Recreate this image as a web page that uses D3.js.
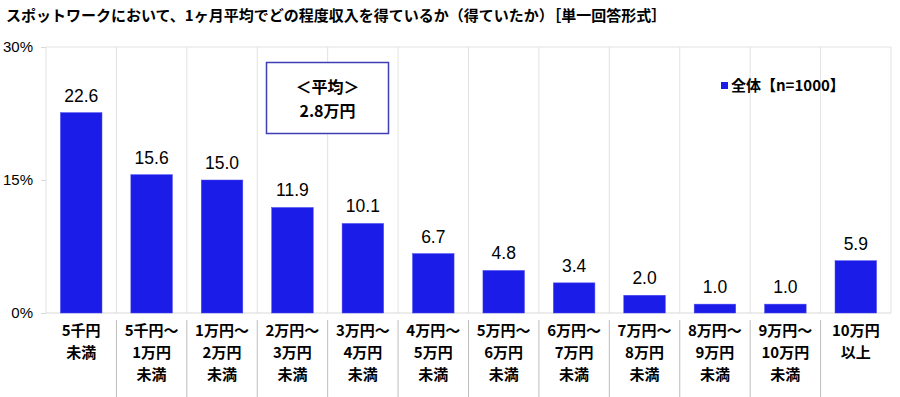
<!DOCTYPE html>
<html>
<head>
<meta charset="utf-8">
<script src="https://cdn.jsdelivr.net/npm/d3@7"></script>
<style>
  body { margin: 0; background: #fff; }
  svg text { fill: #000; }
</style>
</head>
<body>
<div id="chart"></div>
<script>
const title = "スポットワークにおいて、1ヶ月平均でどの程度収入を得ているか（得ていたか）［単一回答形式］";
const categories = [
    ["5千円", "未満"],
    ["5千円～", "1万円", "未満"],
    ["1万円～", "2万円", "未満"],
    ["2万円～", "3万円", "未満"],
    ["3万円～", "4万円", "未満"],
    ["4万円～", "5万円", "未満"],
    ["5万円～", "6万円", "未満"],
    ["6万円～", "7万円", "未満"],
    ["7万円～", "8万円", "未満"],
    ["8万円～", "9万円", "未満"],
    ["9万円～", "10万円", "未満"],
    ["10万円", "以上"]
];
const values = [22.6, 15.6, 15.0, 11.9, 10.1, 6.7, 4.8, 3.4, 2.0, 1.0, 1.0, 5.9];
const yTicks = [0, 15, 30];
const seriesName = "全体【n=1000】";
const averageLines = ["＜平均＞", "2.8万円"];

const width = 900;
const height = 397;
const margin = { top: 47, right: 9, bottom: 84, left: 46 };
const barColor = "#1c1ce8";
const jp = "'Noto Sans CJK JP', sans-serif";
const num = "'Liberation Sans', Arial, sans-serif";

const svg = d3.select("#chart")
    .append("svg")
    .attr("width", width)
    .attr("height", height);

const x = d3.scaleBand()
    .domain(d3.range(categories.length))
    .range([margin.left, width - margin.right])
    .paddingInner(0.41)
    .paddingOuter(0.205);

const y = d3.scaleLinear()
    .domain([0, 30])
    .range([height - margin.bottom, margin.top]);

const step = x.step();
const bandStart = i => margin.left + i * ((width - margin.left - margin.right) / categories.length);

// title
svg.append("text")
    .attr("x", 6)
    .attr("y", 21)
    .attr("font-family", jp)
    .attr("font-weight", "bold")
    .attr("font-size", 15)
    .text(title);

// vertical grid lines between categories
svg.append("g")
    .selectAll("line")
    .data(d3.range(1, categories.length))
    .enter()
    .append("line")
    .attr("x1", d => bandStart(d))
    .attr("x2", d => bandStart(d))
    .attr("y1", y(30))
    .attr("y2", y(0))
    .attr("stroke", "#e2e2e2")
    .attr("stroke-width", 1);

// plot frame lines
svg.append("line")
    .attr("x1", margin.left).attr("x2", width - margin.right)
    .attr("y1", y(30)).attr("y2", y(30))
    .attr("stroke", "#e2e2e2");
svg.append("line")
    .attr("x1", margin.left).attr("x2", margin.left)
    .attr("y1", y(30)).attr("y2", y(0))
    .attr("stroke", "#e2e2e2");
svg.append("line")
    .attr("x1", width - margin.right).attr("x2", width - margin.right)
    .attr("y1", y(30)).attr("y2", y(0))
    .attr("stroke", "#e2e2e2");
svg.append("line")
    .attr("x1", margin.left).attr("x2", width - margin.right)
    .attr("y1", y(0)).attr("y2", y(0))
    .attr("stroke", "#d9d9d9");

// y axis labels
const yAxis = svg.append("g")
    .attr("transform", `translate(${margin.left}, 0)`)
    .call(d3.axisLeft(y).tickValues(yTicks).tickFormat(d => d + "%").tickSize(5).tickPadding(8));
yAxis.select(".domain").remove();
yAxis.selectAll(".tick line").attr("stroke", "#d9d9d9");
yAxis.selectAll("text")
    .attr("font-family", num)
    .attr("font-size", 15)
    .attr("fill", "#000");

// bars
svg.append("g")
    .selectAll("rect")
    .data(values)
    .enter()
    .append("rect")
    .attr("x", (d, i) => x(i))
    .attr("width", x.bandwidth())
    .attr("y", d => y(d))
    .attr("height", d => y(0) - y(d))
    .attr("fill", barColor)
    .attr("stroke", "#4a4af0")
    .attr("stroke-width", 0.5);

// value labels
svg.append("g")
    .selectAll("text")
    .data(values)
    .enter()
    .append("text")
    .attr("x", (d, i) => x(i) + x.bandwidth() / 2)
    .attr("y", d => y(d) - 11)
    .attr("text-anchor", "middle")
    .attr("font-family", num)
    .attr("font-size", 17.5)
    .text(d => d.toFixed(1));

// category labels with separators below axis
const labelG = svg.append("g");
labelG.selectAll("line")
    .data(d3.range(1, categories.length))
    .enter()
    .append("line")
    .attr("x1", d => bandStart(d))
    .attr("x2", d => bandStart(d))
    .attr("y1", y(0) + 7)
    .attr("y2", height)
    .attr("stroke", "#bdbdbd")
    .attr("stroke-width", 1);

categories.forEach((lines, i) => {
    lines.forEach((line, j) => {
        labelG.append("text")
            .attr("x", bandStart(i) + step / 2)
            .attr("y", 336 + j * 21.8)
            .attr("text-anchor", "middle")
            .attr("font-family", jp)
            .attr("font-weight", "bold")
            .attr("font-size", 15)
            .text(line);
    });
});

// average box
const box = svg.append("g");
box.append("rect")
    .attr("x", 266.5)
    .attr("y", 62.5)
    .attr("width", 122)
    .attr("height", 71)
    .attr("fill", "#fff")
    .attr("stroke", "#3f3fb4")
    .attr("stroke-width", 1.5);
averageLines.forEach((line, j) => {
    box.append("text")
        .attr("x", 327.5)
        .attr("y", 93 + j * 23.5)
        .attr("text-anchor", "middle")
        .attr("font-family", jp)
        .attr("font-weight", "bold")
        .attr("font-size", 16)
        .text(line);
});

// legend
const legend = svg.append("g");
legend.append("rect")
    .attr("x", 721)
    .attr("y", 82)
    .attr("width", 7)
    .attr("height", 7)
    .attr("fill", barColor);
legend.append("text")
    .attr("x", 731)
    .attr("y", 91)
    .attr("font-family", jp)
    .attr("font-weight", "bold")
    .attr("font-size", 15)
    .text(seriesName);
</script>
</body>
</html>
